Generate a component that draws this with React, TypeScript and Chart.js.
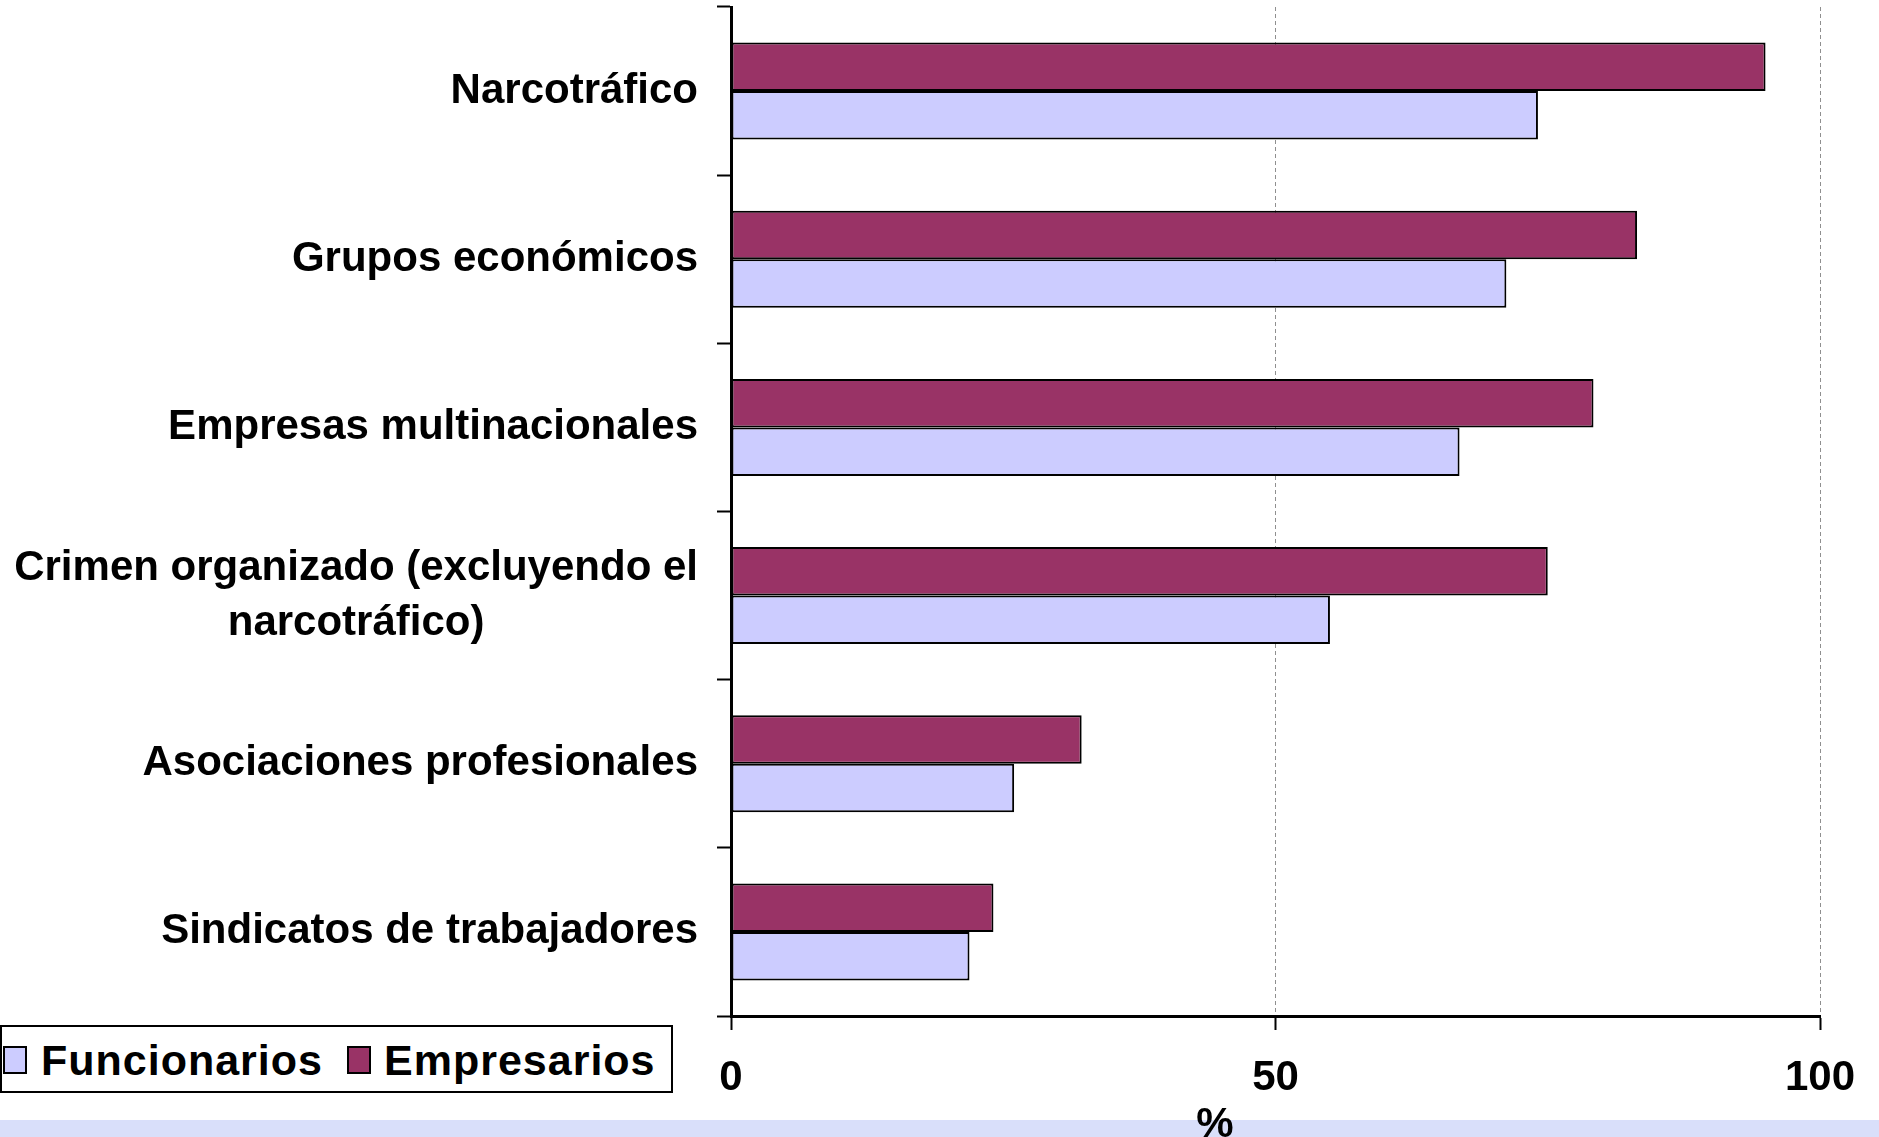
import React, { useEffect, useRef } from "react";
import { Chart, registerables } from "chart.js";

Chart.register(...registerables);

const categories: string[][] = [
  ["Narcotráfico"],
  ["Grupos económicos"],
  ["Empresas multinacionales"],
  ["Crimen organizado (excluyendo el", "narcotráfico)"],
  ["Asociaciones profesionales"],
  ["Sindicatos de trabajadores"],
];
const empresarios = [95.0, 83.2, 79.2, 75.0, 32.2, 24.1];
const funcionarios = [74.1, 71.2, 66.9, 55.0, 26.0, 21.9];
const xTicks = [0, 50, 100];
const seriesNames = ["Funcionarios", "Empresarios"];
const axisTitle = "%";

const FONT = '"Liberation Sans", Arial, Helvetica, sans-serif';
const C_EMP = "#993366";
const C_FUN = "#ccccff";

const yLabelPlugin = {
  id: "yLabels",
  afterDraw(chart: any) {
    const ctx = chart.ctx;
    const y = chart.scales.y;
    ctx.save();
    ctx.font = `bold 42px ${FONT}`;
    ctx.fillStyle = "#000";
    ctx.textBaseline = "middle";
    ctx.textAlign = "center";
    const right = chart.chartArea.left - 33;
    const lh = 55;
    categories.forEach((lines, i) => {
      const cy = y.getPixelForTick(i);
      const w = Math.max(...lines.map((l) => ctx.measureText(l).width));
      const cx = right - w / 2;
      lines.forEach((l, j) => {
        ctx.fillText(l, cx, cy + (j - (lines.length - 1) / 2) * lh);
      });
    });
    ctx.restore();
  },
};

const bandPlugin = {
  id: "band",
  afterDraw(chart: any) {
    const ctx = chart.ctx;
    ctx.save();
    ctx.fillStyle = "#d9dffa";
    ctx.fillRect(0, 1120, chart.width, chart.height - 1120);
    ctx.font = `bold 42px ${FONT}`;
    ctx.fillStyle = "#000";
    ctx.textAlign = "center";
    ctx.textBaseline = "alphabetic";
    ctx.fillText(axisTitle, 1215, 1137);
    ctx.restore();
  },
};

export default function App() {
  const ref = useRef<HTMLCanvasElement | null>(null);

  useEffect(() => {
    document.body.style.margin = "0";
    const canvas = ref.current;
    if (!canvas) return;
    const chart = new Chart(canvas, {
      type: "bar",
      data: {
        labels: categories,
        datasets: [
          {
            label: seriesNames[1],
            data: empresarios,
            backgroundColor: C_EMP,
            borderColor: "#000",
            borderWidth: 2,
            borderSkipped: false,
          },
          {
            label: seriesNames[0],
            data: funcionarios,
            backgroundColor: C_FUN,
            borderColor: "#000",
            borderWidth: 2,
            borderSkipped: false,
          },
        ],
      },
      options: {
        indexAxis: "y",
        animation: false,
        responsive: true,
        maintainAspectRatio: false,
        layout: { padding: { top: 7, right: 59, left: 0, bottom: 0 } },
        datasets: {
          bar: { categoryPercentage: 0.577, barPercentage: 1 },
        } as any,
        plugins: {
          legend: { display: false },
          tooltip: { enabled: false },
          title: { display: false },
        },
        scales: {
          x: {
            type: "linear",
            min: 0,
            max: 100,
            afterBuildTicks: (scale: any) => {
              scale.ticks = xTicks.map((v) => ({ value: v }));
            },
            afterFit: (scale: any) => {
              scale.height = 121;
            },
            ticks: {
              color: "#000",
              font: { family: FONT, size: 42, weight: "bold" },
              padding: 23,
              maxRotation: 0,
            },
            grid: {
              color: (c: any) => (c.tick && c.tick.value === 0 ? "rgba(0,0,0,0)" : "#8f8f8f"),
              lineWidth: 1,
              drawTicks: true,
              tickLength: 14,
              tickColor: "#000",
              tickWidth: 2,
            },
            border: { display: true, color: "#000", width: 3, dash: [4, 3] },
          },
          y: {
            type: "category",
            afterFit: (scale: any) => {
              scale.width = 731;
            },
            ticks: { display: false },
            grid: {
              drawOnChartArea: false,
              drawTicks: true,
              tickLength: 14,
              tickColor: "#000",
              tickWidth: 2,
              color: "#000",
            },
            border: { display: true, color: "#000", width: 3 },
          },
        },
      },
      plugins: [yLabelPlugin, bandPlugin],
    });
    return () => chart.destroy();
  }, []);

  const swatch = (color: string, left: number) => (
    <div
      style={{
        position: "absolute",
        left,
        top: 19,
        width: 24,
        height: 28,
        boxSizing: "border-box",
        border: "2px solid #000",
        background: color,
      }}
    />
  );
  const text = (t: string, left: number) => (
    <span
      style={{
        position: "absolute",
        left,
        top: 12,
        font: `bold 43px ${FONT}`,
        lineHeight: "43px",
        letterSpacing: "1px",
        color: "#000",
        whiteSpace: "nowrap",
      }}
    >
      {t}
    </span>
  );

  return (
    <div
      style={{
        position: "fixed",
        left: 0,
        top: 0,
        width: 1879,
        height: 1137,
        background: "#fff",
        overflow: "hidden",
      }}
    >
      <canvas ref={ref} />
      <div
        style={{
          position: "absolute",
          left: 0,
          top: 1025,
          width: 673,
          height: 68,
          boxSizing: "border-box",
          border: "2px solid #000",
          background: "#fff",
        }}
      >
        {swatch(C_FUN, 1)}
        {text(seriesNames[0], 39)}
        {swatch(C_EMP, 345)}
        {text(seriesNames[1], 382)}
      </div>
    </div>
  );
}
